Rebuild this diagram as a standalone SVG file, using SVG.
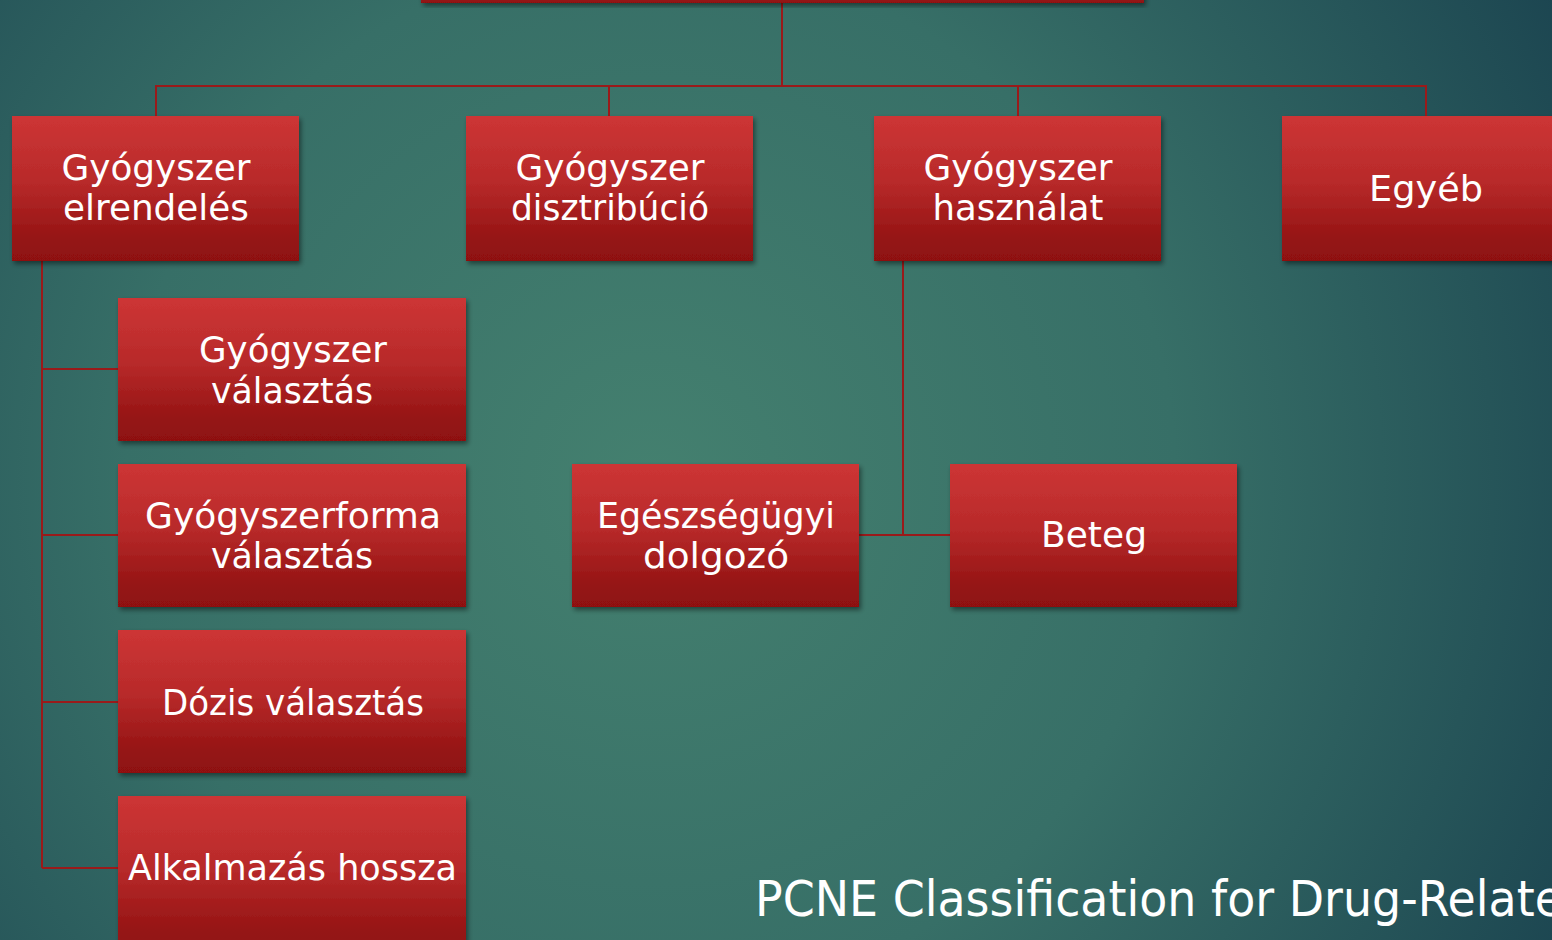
<svg xmlns="http://www.w3.org/2000/svg" width="1552" height="940" viewBox="0 0 1552 940">
  <defs>
    <radialGradient id="bg" cx="650" cy="480" r="1050" gradientUnits="userSpaceOnUse">
      <stop offset="0" stop-color="#44806f"/>
      <stop offset="0.5" stop-color="#376f67"/>
      <stop offset="1" stop-color="#1b4450"/>
    </radialGradient>
    <linearGradient id="boxg" x1="0" y1="0" x2="0" y2="1">
      <stop offset="0" stop-color="#cd3535"/>
      <stop offset="0.45" stop-color="#b82a2a"/>
      <stop offset="0.85" stop-color="#951414"/>
      <stop offset="1" stop-color="#8e1111"/>
    </linearGradient>
    <filter id="sh" x="-10%" y="-10%" width="125%" height="130%">
      <feDropShadow dx="2" dy="3" stdDeviation="2.5" flood-color="#000" flood-opacity="0.45"/>
    </filter>
  </defs>
  <style>
    .box { fill: url(#boxg); filter: url(#sh); }
    .lbl { font-family: "DejaVu Sans", "Liberation Sans", sans-serif; font-size: 36px; fill: #ffffff; text-anchor: middle; }
    .conn { stroke: #9a1a1a; stroke-width: 2; fill: none; }
    .foot { font-family: "DejaVu Sans", "Liberation Sans", sans-serif; font-size: 50px; fill: #ffffff; }
  </style>
  <rect x="0" y="0" width="1552" height="940" fill="url(#bg)"/>

  <g id="connectors">
    <path class="conn" d="M782,3 V86"/>
    <path class="conn" d="M156,116 V86 H1426 V116"/>
    <path class="conn" d="M609,86 V116"/>
    <path class="conn" d="M1018,86 V116"/>
    <path class="conn" d="M42,261 V868"/>
    <path class="conn" d="M42,369 H118"/>
    <path class="conn" d="M42,535 H118"/>
    <path class="conn" d="M42,702 H118"/>
    <path class="conn" d="M42,868 H118"/>
    <path class="conn" d="M903,261 V535"/>
    <path class="conn" d="M859,535 H950"/>
  </g>

  <g id="node-top">
    <rect class="box" x="421" y="-20" width="723" height="23"/>
  </g>

  <g id="node-elrendeles">
    <rect class="box" x="12" y="116" width="287" height="145"/>
    <text class="lbl" x="156" y="180" textLength="189" lengthAdjust="spacingAndGlyphs">Gyógyszer</text>
    <text class="lbl" x="156" y="220" textLength="186" lengthAdjust="spacingAndGlyphs">elrendelés</text>
  </g>

  <g id="node-disztribucio">
    <rect class="box" x="466" y="116" width="287" height="145"/>
    <text class="lbl" x="610" y="180" textLength="189" lengthAdjust="spacingAndGlyphs">Gyógyszer</text>
    <text class="lbl" x="610" y="220" textLength="198" lengthAdjust="spacingAndGlyphs">disztribúció</text>
  </g>

  <g id="node-hasznalat">
    <rect class="box" x="874" y="116" width="287" height="145"/>
    <text class="lbl" x="1018" y="180" textLength="189" lengthAdjust="spacingAndGlyphs">Gyógyszer</text>
    <text class="lbl" x="1018" y="220" textLength="171" lengthAdjust="spacingAndGlyphs">használat</text>
  </g>

  <g id="node-egyeb">
    <rect class="box" x="1282" y="116" width="287" height="145"/>
    <text class="lbl" x="1426" y="201" textLength="114" lengthAdjust="spacingAndGlyphs">Egyéb</text>
  </g>

  <g id="node-gyogyszer-valasztas">
    <rect class="box" x="118" y="298" width="348" height="143"/>
    <text class="lbl" x="293" y="362" textLength="188" lengthAdjust="spacingAndGlyphs">Gyógyszer</text>
    <text class="lbl" x="292" y="403" textLength="162" lengthAdjust="spacingAndGlyphs">választás</text>
  </g>

  <g id="node-forma-valasztas">
    <rect class="box" x="118" y="464" width="348" height="143"/>
    <text class="lbl" x="293" y="528" textLength="296" lengthAdjust="spacingAndGlyphs">Gyógyszerforma</text>
    <text class="lbl" x="292" y="568" textLength="162" lengthAdjust="spacingAndGlyphs">választás</text>
  </g>

  <g id="node-dozis">
    <rect class="box" x="118" y="630" width="348" height="143"/>
    <text class="lbl" x="293" y="715" textLength="262" lengthAdjust="spacingAndGlyphs">Dózis választás</text>
  </g>

  <g id="node-alkalmazas">
    <rect class="box" x="118" y="796" width="348" height="160"/>
    <text class="lbl" x="292.5" y="880" textLength="329" lengthAdjust="spacingAndGlyphs">Alkalmazás hossza</text>
  </g>

  <g id="node-dolgozo">
    <rect class="box" x="572" y="464" width="287" height="143"/>
    <text class="lbl" x="716" y="528" textLength="238" lengthAdjust="spacingAndGlyphs">Egészségügyi</text>
    <text class="lbl" x="716" y="568" textLength="146" lengthAdjust="spacingAndGlyphs">dolgozó</text>
  </g>

  <g id="node-beteg">
    <rect class="box" x="950" y="464" width="287" height="143"/>
    <text class="lbl" x="1094" y="547" textLength="106" lengthAdjust="spacingAndGlyphs">Beteg</text>
  </g>

  <text class="foot" x="755" y="916" textLength="808" lengthAdjust="spacingAndGlyphs">PCNE Classification for Drug-Relate</text>
</svg>
